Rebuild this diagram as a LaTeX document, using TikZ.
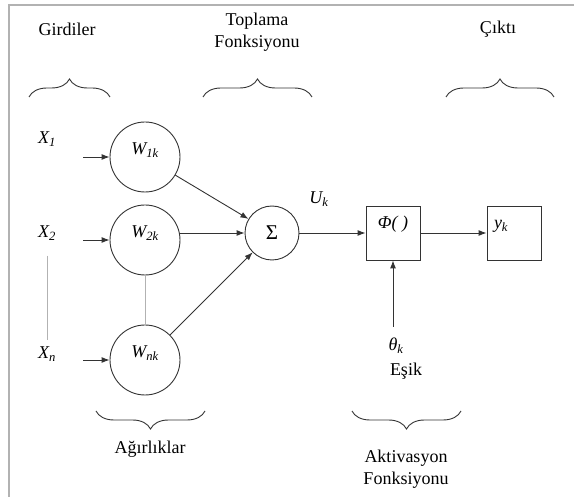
\documentclass[tikz,border=0pt]{standalone}
\usepackage{fontspec}
\setmainfont{Liberation Serif}
\usetikzlibrary{arrows.meta,decorations.pathreplacing}

\begin{document}
\begin{tikzpicture}[x=1pt,y=-1pt,
  cizgi/.style={draw=black!80,line width=0.9pt},
  ok/.style={cizgi,-{Latex[length=8pt,width=6pt]}},
  agirlik/.style={cizgi,circle,minimum size=70pt,inner sep=0pt,text height=13pt,text depth=17pt,font=\fontsize{18}{20}\selectfont\itshape},
  kutu/.style={cizgi,rectangle,minimum size=54pt,inner sep=0pt,text height=13pt,text depth=21pt,font=\fontsize{18}{20}\selectfont\itshape},
  yazi/.style={font=\fontsize{18}{22}\selectfont,align=center},
  etiket/.style={font=\fontsize{18}{20}\selectfont\itshape},
  parantez/.style={cizgi,decorate,decoration={brace,amplitude=18pt}},
  soluk/.style={draw=black!30,line width=0.8pt}]

  \useasboundingbox (0,0) rectangle (574,497);

  %çerçeve
  \draw[black!30,line width=2pt] (9,497) -- (9,5.5) -- (574,5.5);

  %başlıklar
  \node[yazi] (girdiler) at (67,29) {Girdiler};
  \node[yazi] (toplama) at (257,32) {Toplama\\Fonksiyonu};
  \node[yazi] (cikti) at (498,29) {Çıktı};
  \node[yazi] (agirliklar) at (150,449) {Ağırlıklar};
  \node[yazi] (aktivasyon) at (406,469) {Aktivasyon\\Fonksiyonu};

  %parantezler
  \draw[parantez] (29,97) -- (110,97);
  \draw[parantez] (203,97) -- (312,97);
  \draw[parantez] (446,97) -- (554,97);
  \draw[parantez,decoration={mirror}] (96,411) -- (205,411);
  \draw[parantez,decoration={mirror}] (352,411) -- (461,411);

  %girdiler
  \node[etiket] (x1) at (47,139) {X\textsubscript{1}};
  \node[etiket] (x2) at (47,233) {X\textsubscript{2}};
  \node[etiket] (xn) at (47,354) {X\textsubscript{n}};
  \draw[soluk,shorten <=12pt,shorten >=3pt] (x2) -- (xn);

  %ağırlıklar
  \node[agirlik] (w1) at (145,157) {W\textsubscript{1k}};
  \node[agirlik] (w2) at (145,240) {W\textsubscript{2k}};
  \node[agirlik] (wn) at (145,360) {W\textsubscript{nk}};
  \draw[soluk] (w2) -- (wn);

  \coordinate (g1) at (83,157);
  \coordinate (g2) at (83,240);
  \coordinate (gn) at (83,360);
  \draw[ok] (g1) -- (w1);
  \draw[ok] (g2) -- (w2);
  \draw[ok] (gn) -- (wn);

  %toplama
  \node[cizgi,circle,minimum size=54pt,inner sep=0pt,font=\fontsize{21}{24}\selectfont] (toplam) at (272,233) {Σ};
  \draw[ok] (w1) -- (toplam);
  \draw[ok] (w2.east |- toplam) -- (toplam);
  \draw[ok] (wn) -- (toplam);
  \node[etiket] (uk) at (319,199) {U\textsubscript{k}};

  %aktivasyon ve çıktı
  \node[kutu] (aktif) at (393,233) {Φ( )};
  \node[kutu,text width=40pt,align=left] (cikis) at (514,233) {y\textsubscript{k}};
  \draw[ok] (toplam) -- (aktif);
  \draw[ok] (aktif) -- (cikis);

  %eşik
  \node[etiket] (esikdeger) at (396,346) {θ\textsubscript{k}};
  \node[yazi] (esik) at (406,371) {Eşik};
  \draw[ok] ([yshift=8pt]esikdeger.north -| aktif.south) -- (aktif.south);
\end{tikzpicture}
\end{document}
